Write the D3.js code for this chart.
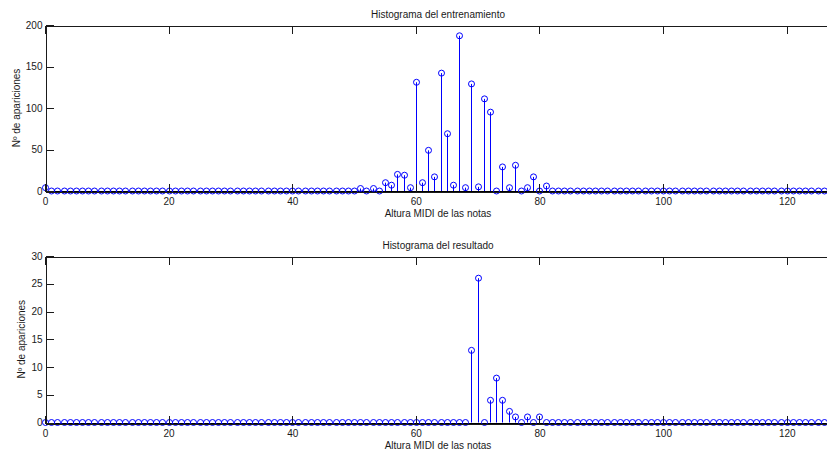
<!DOCTYPE html>
<html lang="es">
<head>
<meta charset="UTF-8">
<title>Histogramas</title>
<script src="https://d3js.org/d3.v7.min.js"></script>
<style>
  body { margin: 0; background: #fff; }
  text { font-family: "Liberation Sans", Arial, sans-serif; }
  .axis path, .axis line { stroke: #1a1a1a; shape-rendering: crispEdges; }
  .axis text { fill: #1a1a1a; font-size: 10px; }
</style>
</head>
<body>
<script>
  // MIDI note numbers 0..127
  var notes = d3.range(0, 128);

  // occurrences per note, training set
  var trainCounts = [
    4, 0, 0, 0, 0, 0, 0, 0, 0, 0, 0, 0, 0, 0, 0, 0,
    0, 0, 0, 0, 0, 0, 0, 0, 0, 0, 0, 0, 0, 0, 0, 0,
    0, 0, 0, 0, 0, 0, 0, 0, 0, 0, 0, 0, 0, 0, 0, 0,
    0, 0, 0, 3, 0, 3, 0, 10, 7, 20, 19, 4, 131, 10, 49, 17,
    142, 69, 7, 187, 4, 129, 5, 111, 95, 0, 29, 4, 31, 0, 4, 17,
    0, 6, 0, 0, 0, 0, 0, 0, 0, 0, 0, 0, 0, 0, 0, 0,
    0, 0, 0, 0, 0, 0, 0, 0, 0, 0, 0, 0, 0, 0, 0, 0,
    0, 0, 0, 0, 0, 0, 0, 0, 0, 0, 0, 0, 0, 0, 0, 0
  ];

  // occurrences per note, generated result
  var resultCounts = [
    0, 0, 0, 0, 0, 0, 0, 0, 0, 0, 0, 0, 0, 0, 0, 0,
    0, 0, 0, 0, 0, 0, 0, 0, 0, 0, 0, 0, 0, 0, 0, 0,
    0, 0, 0, 0, 0, 0, 0, 0, 0, 0, 0, 0, 0, 0, 0, 0,
    0, 0, 0, 0, 0, 0, 0, 0, 0, 0, 0, 0, 0, 0, 0, 0,
    0, 0, 0, 0, 0, 13, 26, 0, 4, 8, 4, 2, 1, 0, 1, 0,
    1, 0, 0, 0, 0, 0, 0, 0, 0, 0, 0, 0, 0, 0, 0, 0,
    0, 0, 0, 0, 0, 0, 0, 0, 0, 0, 0, 0, 0, 0, 0, 0,
    0, 0, 0, 0, 0, 0, 0, 0, 0, 0, 0, 0, 0, 0, 0, 0
  ];

  var xTicks = [0, 20, 40, 60, 80, 100, 120];
  var trainYTicks = [0, 50, 100, 150, 200];
  var resultYTicks = [0, 5, 10, 15, 20, 25, 30];

  var width = 827, height = 451;

  var svg = d3.select("body").append("svg")
    .attr("width", width)
    .attr("height", height);

  var x = d3.scaleLinear()
    .domain([0, 127])
    .range([45, 830]);

  function drawPanel(counts, yMax, yTicks, top, bottom, title, yLabelX) {
    var y = d3.scaleLinear()
      .domain([0, yMax])
      .range([bottom, top]);

    var g = svg.append("g");
    var pts = notes.map((n, i) => [n, counts[i]]);

    // stems
    g.selectAll("line.stem")
      .data(pts.filter(d => d[1] > 0))
      .enter().append("line")
      .attr("class", "stem")
      .attr("x1", d => Math.round(x(d[0])) + 0.5)
      .attr("x2", d => Math.round(x(d[0])) + 0.5)
      .attr("y1", y(0))
      .attr("y2", d => y(d[1]))
      .attr("stroke", "#0000ff")
      .attr("stroke-width", 1);

    // baseline
    g.append("line")
      .attr("x1", x(0))
      .attr("x2", x(127))
      .attr("y1", Math.round(y(0)) + 0.5)
      .attr("y2", Math.round(y(0)) + 0.5)
      .attr("stroke", "#000")
      .attr("stroke-width", 1);

    // markers
    g.selectAll("circle")
      .data(pts)
      .enter().append("circle")
      .attr("cx", d => Math.round(x(d[0])) + 0.5)
      .attr("cy", d => y(d[1]))
      .attr("r", 3)
      .attr("fill", "none")
      .attr("stroke", "#0000ff")
      .attr("stroke-width", 1);

    // axes
    svg.append("g")
      .attr("class", "axis")
      .attr("transform", `translate(0,${Math.round(bottom) + 0.5})`)
      .call(d3.axisBottom(x).tickValues(xTicks).tickSizeInner(-8).tickSizeOuter(0).tickPadding(6));

    svg.append("g")
      .attr("class", "axis")
      .attr("transform", `translate(0,${Math.round(top) + 0.5})`)
      .call(d3.axisTop(x).tickValues(xTicks).tickSizeInner(-8).tickSizeOuter(0).tickFormat(""));

    svg.append("g")
      .attr("class", "axis")
      .attr("transform", `translate(${Math.round(x(0)) + 0.5},0)`)
      .call(d3.axisLeft(y).tickValues(yTicks).tickSizeInner(-8).tickSizeOuter(0).tickPadding(3));

    svg.append("text")
      .attr("x", 438)
      .attr("y", top - 7)
      .attr("text-anchor", "middle")
      .style("font-size", "10px")
      .attr("fill", "#1a1a1a")
      .text(title);

    svg.append("text")
      .attr("x", 438)
      .attr("y", bottom + 26)
      .attr("text-anchor", "middle")
      .style("font-size", "10px")
      .attr("fill", "#1a1a1a")
      .text("Altura MIDI de las notas");

    svg.append("text")
      .attr("transform", `translate(${yLabelX},${(top + bottom) / 2}) rotate(-90)`)
      .attr("text-anchor", "middle")
      .attr("dy", "0.35em")
      .style("font-size", "10px")
      .attr("fill", "#1a1a1a")
      .text("Nº de apariciones");
  }

  drawPanel(trainCounts, 200, trainYTicks, 25, 191, "Histograma del entrenamiento", 16);
  drawPanel(resultCounts, 30, resultYTicks, 256, 422.5, "Histograma del resultado", 21);
</script>
</body>
</html>
